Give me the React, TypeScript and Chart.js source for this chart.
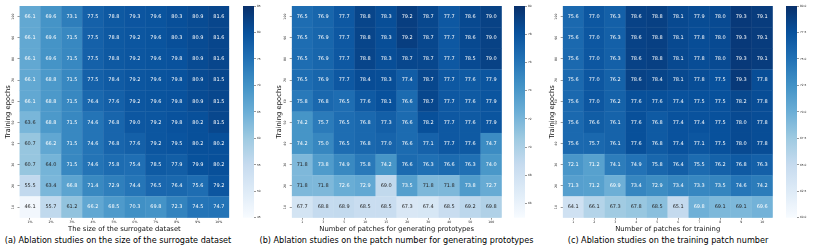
import React, { useEffect, useRef } from "react";
import { Chart, registerables } from "chart.js";
Chart.register(...registerables);

const FAMILY = "DejaVu Sans";

// y categories, bottom-up
const epochs = ["10", "20", "30", "40", "50", "60", "70", "80", "90", "100"];

// x categories
const sizeLabels = ["1%", "2%", "3%", "4%", "5%", "6%", "7%", "8%", "9%", "10%"];
const genPatchLabels = ["1", "3", "5", "10", "15", "20", "30", "40", "50", "100"];
const trainPatchLabels = ["1", "2", "3", "4", "5", "6", "7", "8", "9", "10"];

// rows listed top (epoch 100) to bottom (epoch 10)
const sizeValues = [
  [66.1, 69.6, 73.1, 77.5, 78.8, 79.3, 79.6, 80.3, 80.9, 81.6],
  [66.1, 69.6, 71.5, 77.5, 78.8, 79.2, 79.6, 80.3, 80.9, 81.6],
  [66.1, 69.6, 71.5, 77.5, 78.8, 79.2, 79.6, 79.8, 80.9, 81.6],
  [66.1, 68.8, 71.5, 77.5, 78.4, 79.2, 79.6, 79.8, 80.9, 81.5],
  [66.1, 68.8, 71.5, 76.4, 77.6, 79.2, 79.6, 79.8, 80.9, 81.5],
  [63.6, 68.8, 71.5, 74.6, 76.8, 79.0, 79.2, 79.8, 80.2, 81.5],
  [60.7, 66.2, 71.5, 74.6, 76.8, 77.6, 79.2, 79.5, 80.2, 80.2],
  [60.7, 64.0, 71.5, 74.6, 75.8, 75.4, 78.5, 77.9, 79.9, 80.2],
  [55.5, 63.4, 66.8, 71.4, 72.9, 74.4, 76.5, 76.4, 75.6, 79.2],
  [46.1, 55.7, 61.2, 66.2, 68.5, 70.3, 69.8, 72.3, 74.5, 74.7],
];

const genPatchValues = [
  [76.5, 76.9, 77.7, 78.8, 78.3, 79.2, 78.7, 77.7, 78.6, 79.0],
  [76.5, 76.9, 77.7, 78.8, 78.3, 79.2, 78.7, 77.7, 78.6, 79.0],
  [76.5, 76.9, 77.7, 78.8, 78.3, 78.7, 78.7, 77.7, 78.5, 79.0],
  [76.5, 76.9, 77.7, 78.4, 78.3, 77.4, 78.7, 77.7, 77.6, 77.9],
  [75.8, 76.8, 76.5, 77.6, 78.1, 76.6, 78.7, 77.7, 77.6, 77.9],
  [74.2, 75.7, 76.5, 76.8, 77.3, 76.6, 78.2, 77.7, 77.6, 77.9],
  [74.2, 75.0, 76.5, 76.8, 77.0, 76.6, 77.1, 77.7, 77.6, 74.7],
  [71.8, 73.8, 74.9, 75.8, 74.2, 76.6, 76.3, 76.6, 76.3, 74.0],
  [71.8, 71.8, 72.6, 72.9, 69.0, 73.5, 71.8, 71.8, 73.8, 72.7],
  [67.7, 68.8, 68.9, 68.5, 68.5, 67.3, 67.4, 68.5, 69.2, 69.8],
];

const trainPatchValues = [
  [75.6, 77.0, 76.3, 78.6, 78.8, 78.1, 77.9, 78.0, 79.3, 79.1],
  [75.6, 77.0, 76.3, 78.6, 78.8, 78.1, 77.8, 78.0, 79.3, 79.1],
  [75.6, 77.0, 76.3, 78.6, 78.8, 78.1, 77.8, 78.0, 79.3, 79.1],
  [75.6, 77.0, 76.2, 78.6, 78.4, 78.1, 77.8, 77.5, 79.3, 77.8],
  [75.6, 77.0, 76.2, 77.6, 77.6, 77.4, 77.5, 77.5, 78.2, 77.8],
  [75.6, 76.6, 76.1, 77.6, 76.8, 77.4, 77.4, 77.5, 78.0, 77.8],
  [75.6, 75.7, 76.1, 77.6, 76.8, 77.4, 77.1, 77.5, 78.0, 77.8],
  [72.1, 71.2, 74.1, 74.9, 75.8, 76.4, 75.5, 76.2, 76.8, 76.3],
  [71.3, 71.2, 69.9, 73.4, 72.9, 73.4, 73.3, 73.5, 74.6, 74.2],
  [64.1, 66.1, 67.3, 67.8, 68.5, 65.1, 69.8, 69.1, 69.1, 69.6],
];

const sizeTicks = [45, 50, 55, 60, 65, 70, 75, 80, 85];
const genPatchTicks = [66, 68, 70, 72, 74, 76, 78, 80];
const trainPatchTicks = [60, 62.5, 65, 67.5, 70, 72.5, 75, 77.5, 80];

const BLUES = [
  [247, 251, 255], [222, 235, 247], [198, 219, 239], [158, 202, 225],
  [107, 174, 214], [66, 146, 198], [33, 113, 181], [8, 81, 156], [8, 48, 107],
];

function blues(t: number): number[] {
  const tt = Math.max(0, Math.min(1, t));
  const p = tt * 8;
  const i = Math.min(7, Math.floor(p));
  const f = p - i;
  const a = BLUES[i], b = BLUES[i + 1];
  return [0, 1, 2].map((k) => a[k] + (b[k] - a[k]) * f);
}
const css = (c: number[]) => `rgb(${Math.round(c[0])},${Math.round(c[1])},${Math.round(c[2])})`;
const lighten = (c: number[], f: number) => c.map((v) => v + (255 - v) * f);
function luminance(c: number[]) {
  const lin = c.map((v) => {
    const s = v / 255;
    return s <= 0.03928 ? s / 12.92 : Math.pow((s + 0.055) / 1.055, 2.4);
  });
  return 0.2126 * lin[0] + 0.7152 * lin[1] + 0.0722 * lin[2];
}

const TOP = 6;
const BOTTOM = 217.7;
const CH = 234;
const TEXT = "#222";

type HMProps = {
  xLabels: string[]; rows: number[][]; vmin: number; vmax: number;
  hmLeft: number; hmRight: number; titleGap: number; xTitle: string;
};

function Heatmap({ xLabels, rows, vmin, vmax, hmLeft, hmRight, titleGap, xTitle }: HMProps) {
  const ref = useRef<HTMLCanvasElement>(null);
  const canvasLeft = Math.floor(hmLeft - 17);
  const yW = hmLeft - canvasLeft;
  const canvasW = Math.ceil(hmRight - canvasLeft) + 3;
  const padRight = canvasW - (hmRight - canvasLeft);
  const xH = CH - BOTTOM;
  useEffect(() => {
    const n = rows.length;
    const colorOf = (v: number) => blues((v - vmin) / (vmax - vmin));
    const datasets = epochs.map((ep, r) => {
      const row = rows[n - 1 - r];
      return {
        label: ep,
        data: row.map(() => [r, r + 1]),
        backgroundColor: row.map((v) => css(colorOf(v))),
        borderColor: row.map((v) => css(lighten(colorOf(v), 0.12))),
        borderWidth: 0.35,
        borderSkipped: false,
        grouped: false,
        barPercentage: 1,
        categoryPercentage: 1,
      };
    });
    const annot = {
      id: "annot",
      afterDatasetsDraw(chart: any) {
        const { ctx, scales } = chart;
        const xs = scales.x, ys = scales.y;
        ctx.save();
        ctx.font = `5px "${FAMILY}"`;
        ctx.textAlign = "center";
        ctx.textBaseline = "middle";
        for (let r = 0; r < n; r++) {
          const row = rows[n - 1 - r];
          row.forEach((v, c) => {
            const col = colorOf(v);
            ctx.fillStyle = luminance(col) > 0.408 ? "rgb(38,38,38)" : "#ffffff";
            ctx.fillText(v.toFixed(1), xs.getPixelForValue(c), ys.getPixelForValue(r + 0.5));
          });
        }
        ctx.restore();
      },
    };
    const chart = new Chart(ref.current as HTMLCanvasElement, {
      type: "bar",
      data: { labels: xLabels, datasets: datasets as any },
      options: {
        animation: false,
        responsive: false,
        devicePixelRatio: 1,
        layout: { padding: { top: TOP, right: padRight, left: 0, bottom: 0 } },
        plugins: { legend: { display: false }, tooltip: { enabled: false } },
        scales: {
          x: {
            type: "category",
            offset: true,
            afterFit: (s: any) => { s.height = xH; },
            ticks: { font: { size: 3.2, family: FAMILY }, color: TEXT, maxRotation: 0, minRotation: 0, padding: 1, autoSkip: false },
            grid: { display: true, drawOnChartArea: false, offset: false, tickLength: 2, tickWidth: 0.5, tickColor: "#333" },
            border: { display: false },
            title: { display: true, text: xTitle, color: "#111", font: { size: 6.8, family: FAMILY }, padding: { top: 0, bottom: 0.6 } },
          },
          y: {
            type: "linear",
            min: 0,
            max: epochs.length,
            afterBuildTicks: (s: any) => { s.ticks = epochs.map((_, i) => ({ value: i + 0.5 })); },
            afterFit: (s: any) => { s.width = yW; },
            ticks: {
              callback: (_v: any, i: number) => epochs[i],
              font: { size: 3.2, family: FAMILY }, color: TEXT,
              minRotation: 90, maxRotation: 90, crossAlign: "center", padding: 1, autoSkip: false,
            },
            grid: { display: true, drawOnChartArea: false, tickLength: 2, tickWidth: 0.5, tickColor: "#333" },
            border: { display: false },
            title: {
              display: true, text: "Training epochs", color: "#111", font: { size: 6.8, family: FAMILY },
              padding: { top: Math.max(0, yW - titleGap - 4.08), bottom: 0 },
            },
          },
        },
      } as any,
      plugins: [annot],
    });
    return () => chart.destroy();
  }, []);
  return <canvas ref={ref} width={canvasW} height={CH} style={{ position: "absolute", left: canvasLeft, top: 0 }} />;
}

type CBProps = { vmin: number; vmax: number; ticks: number[]; left: number; right: number; decimals: number };

function ColorBar({ vmin, vmax, ticks, left, right, decimals }: CBProps) {
  const ref = useRef<HTMLCanvasElement>(null);
  const canvasLeft = Math.floor(left);
  const pl = left - canvasLeft;
  const canvasW = Math.ceil(right - canvasLeft) + 14;
  const yW = canvasW - (right - canvasLeft);
  const padBottom = 4;
  const h = Math.ceil(BOTTOM + padBottom);
  useEffect(() => {
    const chart = new Chart(ref.current as HTMLCanvasElement, {
      type: "bar",
      data: {
        labels: [""],
        datasets: [{
          data: [[vmin, vmax]],
          backgroundColor: (ctx: any) => {
            const area = ctx.chart.chartArea;
            if (!area) return css(BLUES[4]);
            const g = ctx.chart.ctx.createLinearGradient(0, area.bottom, 0, area.top);
            for (let i = 0; i <= 32; i++) g.addColorStop(i / 32, css(blues(i / 32)));
            return g;
          },
          borderWidth: 0,
          barPercentage: 1,
          categoryPercentage: 1,
        }] as any,
      },
      options: {
        animation: false,
        responsive: false,
        devicePixelRatio: 1,
        layout: { padding: { top: TOP, left: pl, right: 0, bottom: h - BOTTOM } },
        plugins: { legend: { display: false }, tooltip: { enabled: false } },
        scales: {
          x: { display: false },
          y: {
            position: "right",
            min: vmin,
            max: vmax,
            afterBuildTicks: (s: any) => { s.ticks = ticks.map((v) => ({ value: v })); },
            afterFit: (s: any) => { s.width = yW; },
            ticks: {
              callback: (v: any) => Number(v).toFixed(decimals),
              font: { size: 2.9, family: FAMILY }, color: TEXT, padding: 1, autoSkip: false,
            },
            grid: { display: true, drawOnChartArea: false, tickLength: 2, tickWidth: 0.5, tickColor: "#333" },
            border: { display: false },
          },
        },
      } as any,
    });
    return () => chart.destroy();
  }, []);
  return <canvas ref={ref} width={canvasW} height={h} style={{ position: "absolute", left: canvasLeft, top: 0 }} />;
}

function Caption({ text, center }: { text: string; center: number }) {
  return (
    <div
      style={{
        position: "absolute", left: center, top: 239.5, transform: "translate(-50%, -50%)",
        fontFamily: `"${FAMILY}", sans-serif`, fontSize: "8.1px", lineHeight: 1, color: "#000", whiteSpace: "nowrap",
      }}
    >
      {text}
    </div>
  );
}

export default function App() {
  return (
    <div style={{ position: "absolute", left: 0, top: 0, width: 830, height: 246, background: "#fff", overflow: "hidden" }}>
      <Heatmap xLabels={sizeLabels} rows={sizeValues} vmin={45} vmax={85} hmLeft={19.5} hmRight={229.3} titleGap={11} xTitle="The size of the surrogate dataset" />
      <ColorBar vmin={45} vmax={85} ticks={sizeTicks} left={243} right={254} decimals={0} />
      <Heatmap xLabels={genPatchLabels} rows={genPatchValues} vmin={65} vmax={80} hmLeft={291.7} hmRight={501.7} titleGap={12} xTitle="Number of patches for generating prototypes" />
      <ColorBar vmin={65} vmax={80} ticks={genPatchTicks} left={514} right={525} decimals={0} />
      <Heatmap xLabels={trainPatchLabels} rows={trainPatchValues} vmin={60} vmax={80} hmLeft={562.7} hmRight={772.7} titleGap={10.8} xTitle="Number of patches for training" />
      <ColorBar vmin={60} vmax={80} ticks={trainPatchTicks} left={786} right={797} decimals={1} />
      <Caption text="(a) Ablation studies on the size of the surrogate dataset" center={118} />
      <Caption text="(b) Ablation studies on the patch number for generating prototypes" center={396.5} />
      <Caption text="(c) Ablation studies on the training patch number" center={668} />
    </div>
  );
}
